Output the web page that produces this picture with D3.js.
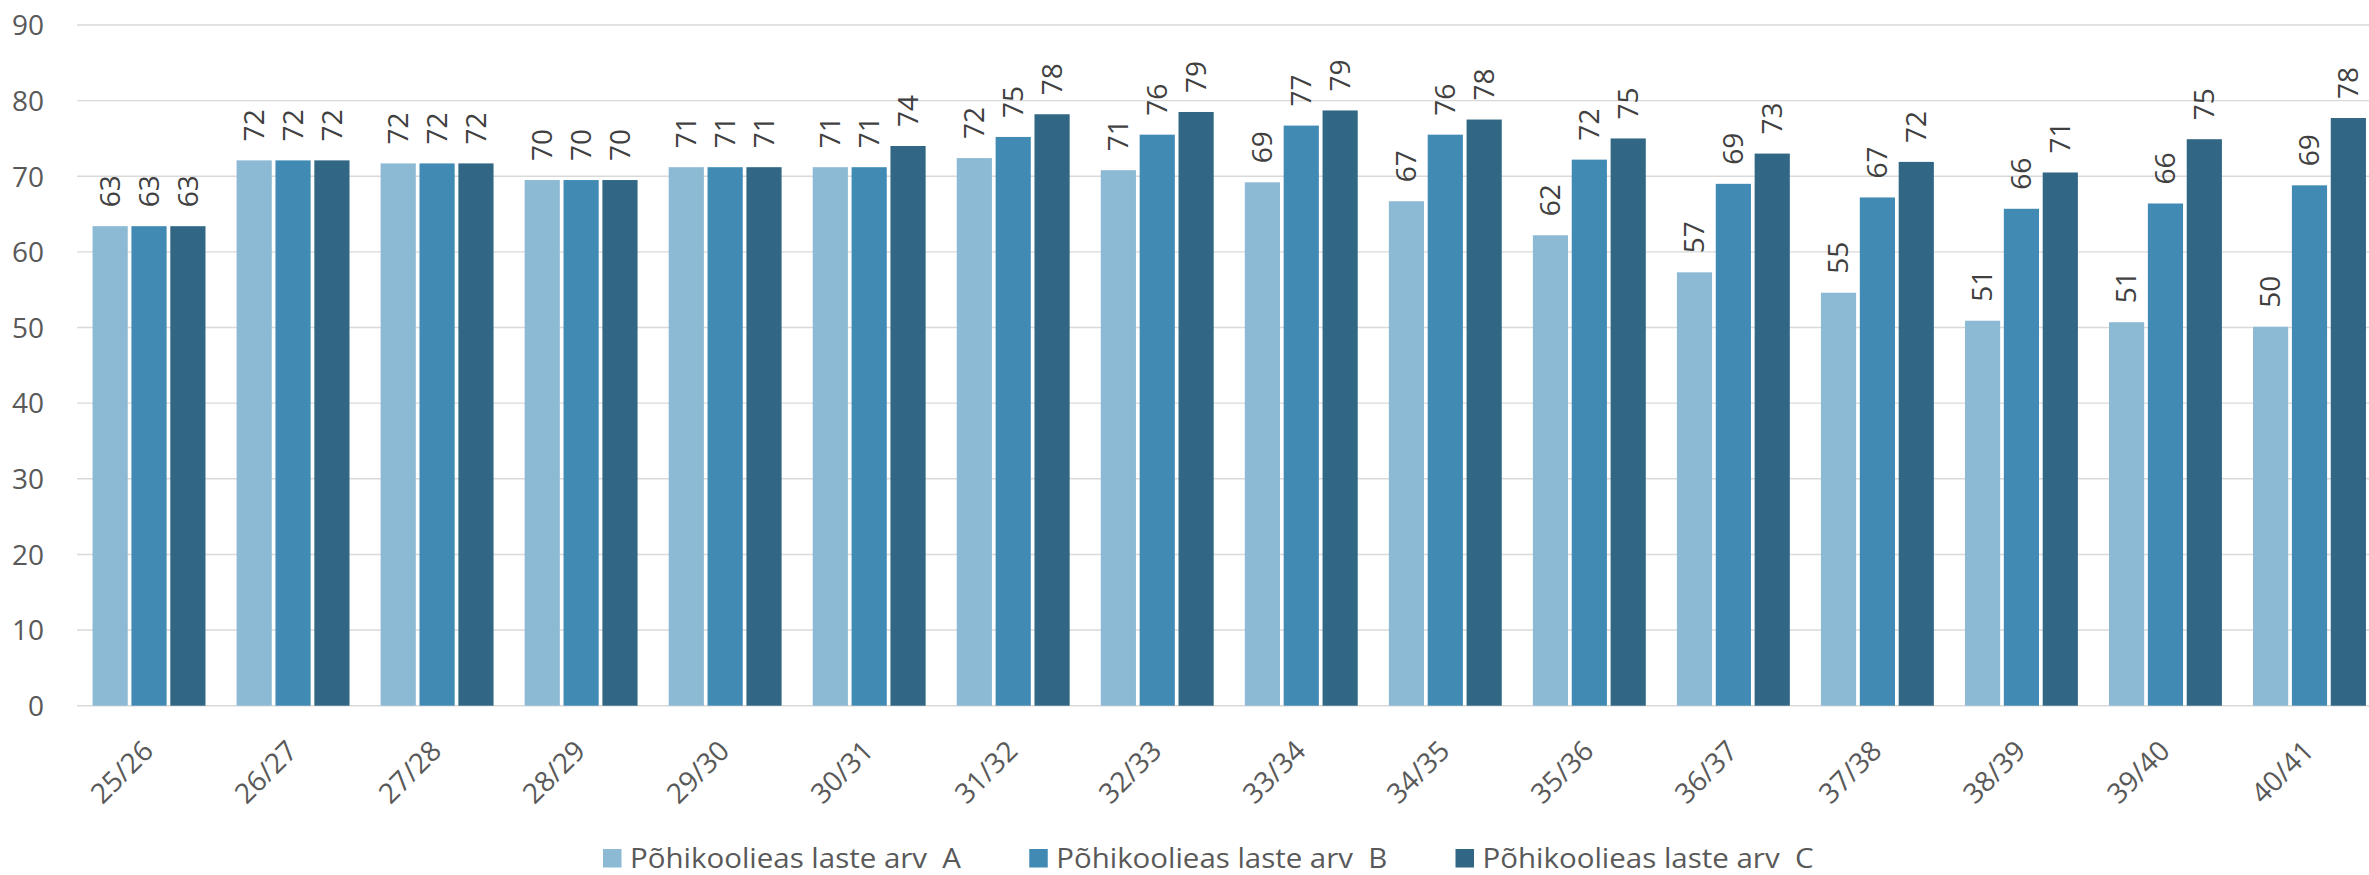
<!DOCTYPE html>
<html>
<head>
<meta charset="utf-8">
<script src="https://cdn.jsdelivr.net/npm/d3@7"></script>
<style>
  html, body { margin: 0; padding: 0; background: #ffffff; }
  svg { display: block; }
  text { font-family: "Open Sans", "Noto Sans", sans-serif; }
</style>
</head>
<body>
<svg id="chart" width="2369" height="875"></svg>
<script>
// ---- data ----
const categories = ["25/26","26/27","27/28","28/29","29/30","30/31","31/32","32/33","33/34","34/35","35/36","36/37","37/38","38/39","39/40","40/41"];
const seriesNames = ["Põhikoolieas laste arv  A","Põhikoolieas laste arv  B","Põhikoolieas laste arv  C"];
const valuesA = [63.4, 72.1, 71.7, 69.5, 71.2, 71.2, 72.4, 70.8, 69.2, 66.7, 62.2, 57.3, 54.6, 50.9, 50.7, 50.1];
const valuesB = [63.4, 72.1, 71.7, 69.5, 71.2, 71.2, 75.2, 75.5, 76.7, 75.5, 72.2, 69.0, 67.2, 65.7, 66.4, 68.8];
const valuesC = [63.4, 72.1, 71.7, 69.5, 71.2, 74.0, 78.2, 78.5, 78.7, 77.5, 75.0, 73.0, 71.9, 70.5, 74.9, 77.7];
const yTicks = [0, 10, 20, 30, 40, 50, 60, 70, 80, 90];
const colors = ["#8cb9d4", "#418ab4", "#316785"];

const seriesValues = [valuesA, valuesB, valuesC];
const keys = ["A", "B", "C"];

const svg = d3.select("#chart");

const plotLeft = 77, plotRight = 2381.5, plotTop = 25, plotBottom = 705.7;

const x0 = d3.scaleBand().domain(categories).range([plotLeft, plotRight])
  .paddingInner(0.216).paddingOuter(0.108);
const x1 = d3.scaleBand().domain(keys).range([0, x0.bandwidth()])
  .paddingInner(0.095).paddingOuter(0);
const y = d3.scaleLinear().domain([0, 90]).range([plotBottom, plotTop]);

// gridlines
svg.append("g").selectAll("line").data(yTicks).join("line")
  .attr("x1", plotLeft).attr("x2", plotRight)
  .attr("y1", d => y(d)).attr("y2", d => y(d))
  .attr("stroke", "#d9d9d9").attr("stroke-width", 1.4);

// y-axis labels
const yAxis = d3.axisLeft(y).tickValues(yTicks).tickSize(0).tickPadding(0);
const yg = svg.append("g").attr("transform", "translate(44,0)").call(yAxis);
yg.select(".domain").remove();
yg.selectAll("text").attr("font-size", 28).attr("fill", "#595959")
  .attr("font-family", "Open Sans").attr("dy", "0.35em");

// bars
const rows = categories.map((c, i) => ({ cat: c, vals: keys.map((k, j) => ({ key: k, idx: j, v: seriesValues[j][i] })) }));

const groups = svg.append("g").selectAll("g").data(rows).join("g")
  .attr("transform", d => `translate(${x0(d.cat)},0)`);

groups.selectAll("rect").data(d => d.vals).join("rect")
  .attr("x", d => x1(d.key))
  .attr("width", x1.bandwidth())
  .attr("y", d => y(d.v))
  .attr("height", d => y(0) - y(d.v))
  .attr("fill", d => colors[d.idx]);

// data labels
groups.selectAll("text").data(d => d.vals).join("text")
  .attr("transform", d => `translate(${x1(d.key) + x1.bandwidth() / 2},${y(d.v) - 19}) rotate(-90)`)
  .attr("dy", "0.35em")
  .attr("text-anchor", "start")
  .attr("font-size", 28)
  .attr("fill", "#404040")
  .text(d => Math.round(d.v));

// x-axis labels
const xAxis = d3.axisBottom(x0).tickSize(0).tickPadding(0);
const xg = svg.append("g").attr("transform", `translate(0,${plotBottom})`).call(xAxis);
xg.select(".domain").remove();
xg.selectAll(".tick text")
  .attr("font-size", 28).attr("fill", "#595959").attr("font-family", "Open Sans")
  .attr("text-anchor", "end")
  .attr("y", 0).attr("dy", 0)
  .attr("transform", "translate(6,47) rotate(-45)");

// legend
const legendX = d3.scalePoint().domain(seriesNames).range([603, 1455.5]);
const lg = svg.append("g").selectAll("g").data(seriesNames).join("g")
  .attr("transform", d => `translate(${legendX(d)},849)`);
lg.append("rect").attr("width", 18.5).attr("height", 18.5)
  .attr("fill", (d, i) => colors[i]);
lg.append("text").attr("x", 27).attr("y", 18.5)
  .attr("font-size", 28).attr("fill", "#595959")
  .attr("textLength", 331).attr("lengthAdjust", "spacingAndGlyphs")
  .style("white-space", "pre")
  .text(d => d);
</script>
</body>
</html>
